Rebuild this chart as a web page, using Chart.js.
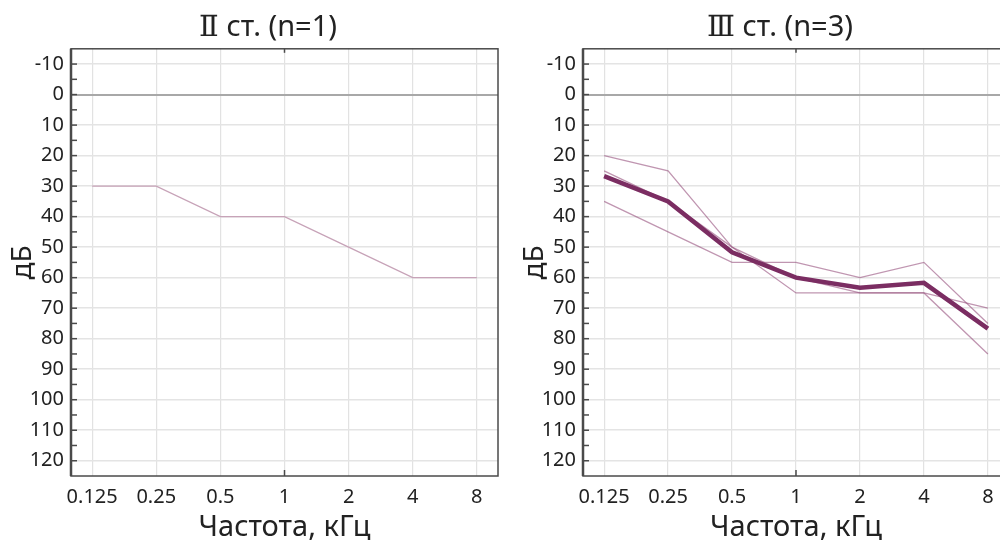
<!DOCTYPE html>
<html><head><meta charset="utf-8">
<script src="https://cdn.jsdelivr.net/npm/chart.js@4/dist/chart.umd.min.js"></script>
<style>
@font-face{font-family:'RomanNum';src:local('DejaVu Serif'),local('DejaVuSerif');unicode-range:U+2160-2188;}
html,body{margin:0;padding:0;width:1000px;height:542px;overflow:hidden;background:#fff;}
.box{position:absolute;top:0;width:536px;height:542px;}
</style></head><body>
<div class="box" style="left:0"><canvas id="c1" width="536" height="542"></canvas></div>
<div class="box" style="left:512px"><canvas id="c2" width="536" height="542"></canvas></div>
<script>
const frequencies = ['0.125','0.25','0.5','1','2','4','8'];
const xTitle = 'Частота, кГц';
const yTitle = 'дБ';
const stage2Title = 'Ⅱ ст. (n=1)';
const stage3Title = 'Ⅲ ст. (n=3)';
const stage2Patient1 = [30,30,40,40,50,60,60];
const stage3Patient1 = [20,25,50,65,65,65,85];
const stage3Patient2 = [35,45,55,55,60,55,75];
const stage3Patient3 = [25,35,50,60,65,65,70];
const stage3Mean = [26.7,35,51.7,60,63.3,61.7,76.7];
const yMin = -15, yMax = 125;

const FONT = 'Noto Sans';
const TITLE_FONT = "RomanNum, 'Noto Sans'";
const frame = {
  id:'frame',
  afterDraw(chart){
    const {ctx, chartArea:a, scales:{x,y}} = chart;
    ctx.save();
    ctx.strokeStyle = '#4a4a4a';
    ctx.lineWidth = 1.5;
    ctx.strokeRect(a.left, a.top, a.right - a.left, a.bottom - a.top);
    ctx.lineWidth = 2.5;
    ctx.beginPath(); ctx.moveTo(a.left, a.top); ctx.lineTo(a.left, a.bottom); ctx.stroke();
    ctx.lineWidth = 1.5;
    for (const t of y.ticks) {
      if (t.value <= yMin || t.value >= yMax) continue;
      const py = y.getPixelForValue(t.value);
      ctx.beginPath(); ctx.moveTo(a.left, py); ctx.lineTo(a.left + 6, py); ctx.stroke();
    }
    const px = x.getPixelForValue(3);
    ctx.beginPath(); ctx.moveTo(px, a.top); ctx.lineTo(px, a.top + 4); ctx.stroke();
    ctx.beginPath(); ctx.moveTo(px, a.bottom); ctx.lineTo(px, a.bottom - 6); ctx.stroke();
    ctx.restore();
  }
};

function toPoints(arr){ return arr.map((v,i)=>({x:i,y:v})); }

function makeChart(id, title, datasets, rightGap){
  return new Chart(document.getElementById(id), {
    type:'line',
    data:{datasets},
    plugins:[frame],
    options:{
      responsive:false, animation:false, devicePixelRatio:1,
      layout:{padding:0},
      plugins:{
        legend:{display:false}, tooltip:{enabled:false},
        title:{display:true, text:title, color:'#222', font:{family:TITLE_FONT,size:29,weight:'normal'}, padding:{top:10,bottom:4}}
      },
      elements:{point:{radius:0}, line:{tension:0}},
      scales:{
        x:{
          type:'linear', min:-0.33, max:6.33,
          afterBuildTicks:(s)=>{ s.ticks = frequencies.map((_,i)=>({value:i})); },
          afterFit:(s)=>{ s.height = 66; },
          ticks:{callback:(v)=>frequencies[v], autoSkip:false, maxRotation:0, padding:9, color:'#222', font:{family:FONT,size:20}},
          grid:{color:'#e2e2e2', lineWidth:1.2, drawTicks:false},
          border:{display:false},
          title:{display:true, text:xTitle, color:'#222', font:{family:FONT,size:29}, padding:{top:2,bottom:-3}}
        },
        y:{
          type:'linear', reverse:true, min:yMin, max:yMax,
          afterFit:(s)=>{ s.width = 71; },
          ticks:{stepSize:5, autoSkip:false, padding:7, color:'#222', font:{family:FONT,size:20},
            callback:(v)=> (v % 10 === 0 ? String(v) : '')},
          grid:{drawTicks:false,
            color:(c)=> c.tick && c.tick.value === 0 ? '#a8a8a8' : (c.tick && c.tick.value % 10 === 0 && c.tick.value > yMin && c.tick.value < yMax ? '#e4e4e4' : 'rgba(0,0,0,0)'),
            lineWidth:(c)=> c.tick && c.tick.value === 0 ? 2 : 1.5},
          border:{display:false},
          title:{display:true, text:yTitle, color:'#222', font:{family:FONT,size:28}, padding:{top:6,bottom:0}}
        },
        gap:{
          type:'linear', position:'right', display:true,
          afterFit:(s)=>{ s.width = rightGap; },
          ticks:{display:false}, grid:{display:false}, border:{display:false}, title:{display:false}
        }
      }
    }
  });
}

function build(){
  makeChart('c1', stage2Title, [
    {data:toPoints(stage2Patient1), borderColor:'#c7a3b8', borderWidth:1.3}
  ], 38);
  makeChart('c2', stage3Title, [
    {data:toPoints(stage3Mean), borderColor:'#7b2d62', borderWidth:4.5, order:0},
    {data:toPoints(stage3Patient1), borderColor:'rgba(150,80,125,0.6)', borderWidth:1.3, order:1},
    {data:toPoints(stage3Patient2), borderColor:'rgba(150,80,125,0.6)', borderWidth:1.3, order:1},
    {data:toPoints(stage3Patient3), borderColor:'rgba(150,80,125,0.6)', borderWidth:1.3, order:1}
  ], 39);
}

Promise.race([
  Promise.all([document.fonts.load("29px RomanNum", "ⅡⅢ"), document.fonts.load("29px 'Noto Sans'", "ст")]),
  new Promise(r=>setTimeout(r, 800))
]).catch(()=>{}).then(build);
</script>
</body></html>
